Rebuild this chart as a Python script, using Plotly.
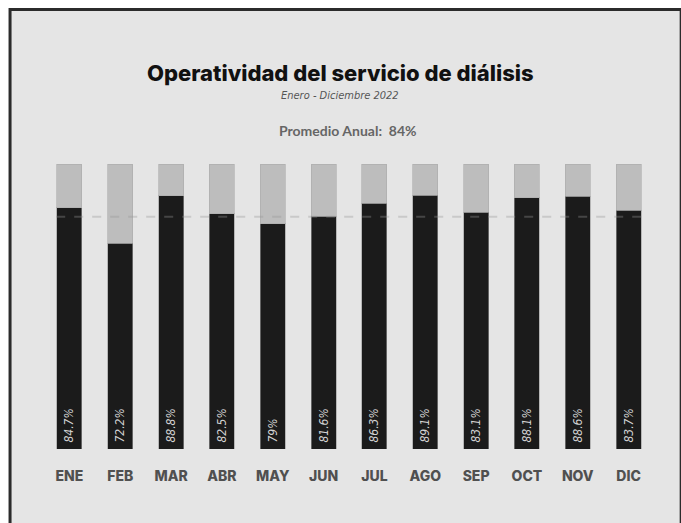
import plotly.graph_objects as go

months = ["ENE", "FEB", "MAR", "ABR", "MAY", "JUN", "JUL", "AGO", "SEP", "OCT", "NOV", "DIC"]
operatividad = [84.7, 72.2, 88.8, 82.5, 79, 81.6, 86.3, 89.1, 83.1, 88.1, 88.6, 83.7]
labels = ["84.7%", "72.2%", "88.8%", "82.5%", "79%", "81.6%", "86.3%", "89.1%", "83.1%", "88.1%", "88.6%", "83.7%"]
total = 100
promedio_texto = "84%"
linea_promedio = 81.5

W, H = 681, 523
ml, mr, mt, mb = 43.5, 26.7, 164, 74
pw = W - ml - mr
ph = H - mt - mb

def px(x):
    return (x - ml) / pw

def py(y):
    return (H - mb - y) / ph

resto = [total - v for v in operatividad]
xs = list(range(len(months)))

fig = go.Figure()
fig.add_trace(go.Bar(
    x=xs, y=operatividad, marker=dict(color="#1b1b1b", line=dict(color="rgba(150,150,150,0.6)", width=1)),
    text=["&nbsp;" + t for t in labels], textposition="inside", insidetextanchor="start", textangle=-90,
    textfont=dict(family="DejaVu Sans Condensed", size=12, color="#d2d2d2", style="italic"),
    hoverinfo="skip", cliponaxis=False,
))
fig.add_trace(go.Bar(
    x=xs, y=resto, marker=dict(color="#bdbdbd", line=dict(color="rgba(170,170,170,0.6)", width=1)),
    hoverinfo="skip",
))

fig.update_layout(
    width=W, height=H, barmode="stack", bargap=0.51, showlegend=False,
    margin=dict(l=ml, r=mr, t=mt, b=mb, pad=0),
    paper_bgcolor="white", plot_bgcolor="rgba(0,0,0,0)",
    xaxis=dict(range=[-0.5, len(months) - 0.5], tickmode="array", tickvals=xs, ticktext=months,
               showgrid=False, zeroline=False, showline=False, ticks="outside", ticklen=14,
               tickcolor="rgba(0,0,0,0)",
               tickfont=dict(family="Inter", size=14, color="#505050", weight=800)),
    yaxis=dict(range=[0, total], visible=False),
    shapes=[
        dict(type="rect", xref="paper", yref="paper", x0=px(9.5), x1=px(681.5), y0=py(535), y1=py(9.5),
             line=dict(color="#2b2b2b", width=3), fillcolor="#e5e5e5", layer="below"),
        dict(type="line", xref="x", yref="y", x0=-0.26, x1=len(months) - 1 + 0.26,
             y0=linea_promedio, y1=linea_promedio,
             line=dict(color="rgba(150,150,150,0.35)", width=2, dash="dash"), layer="above"),
    ],
    annotations=[
        dict(text="Operatividad del servicio de diálisis", xref="paper", yref="paper",
             x=px(340), y=py(73), showarrow=False, xanchor="center", yanchor="middle",
             font=dict(family="Inter", size=22, color="#111111", weight=800)),
        dict(text="Enero - Diciembre 2022", xref="paper", yref="paper",
             x=px(340), y=py(96), showarrow=False, xanchor="center", yanchor="middle",
             font=dict(family="DejaVu Sans Condensed", size=11, color="#555555", style="italic")),
        dict(text="Promedio Anual:  " + promedio_texto, xref="paper", yref="paper",
             x=px(348), y=py(130), showarrow=False, xanchor="center", yanchor="middle",
             font=dict(family="Lato", size=14, color="#666666", weight="bold")),
    ],
)

fig.write_html("out.html")
